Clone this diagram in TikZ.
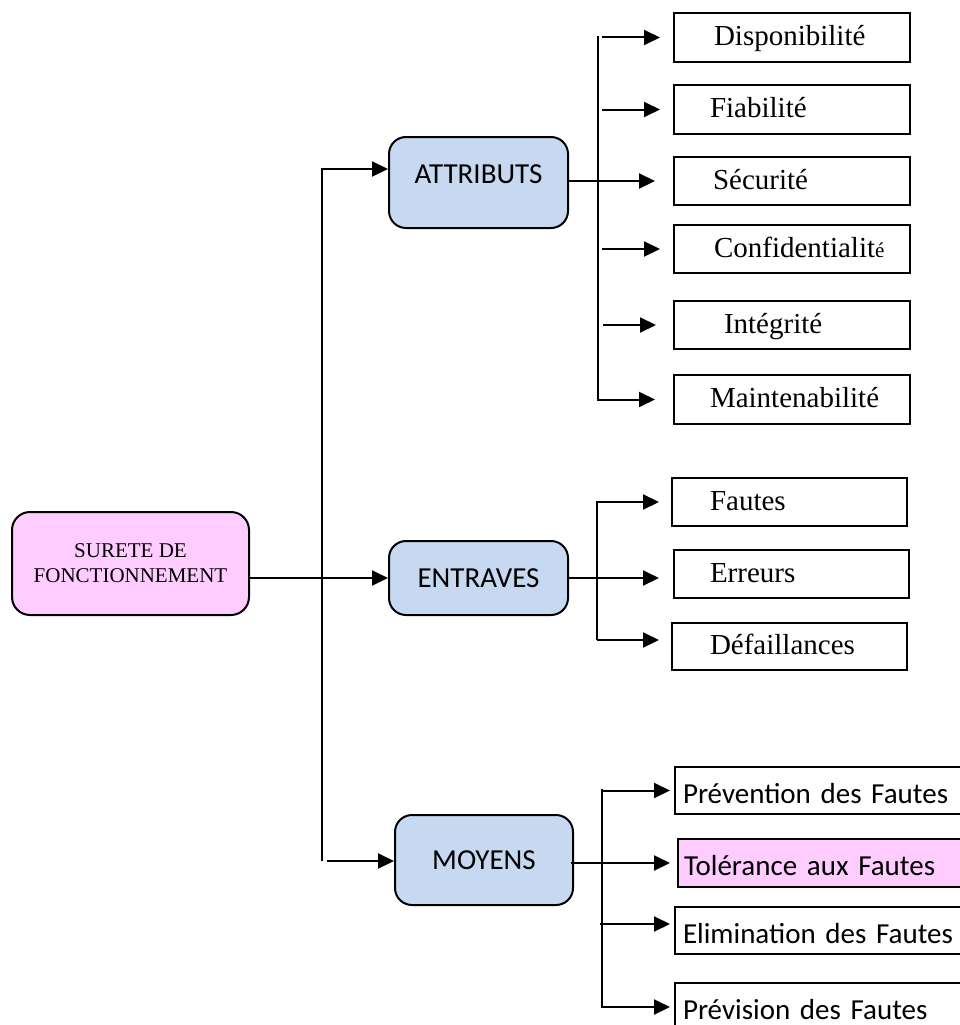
\documentclass[tikz,border=0pt]{standalone}
\usepackage{fontspec}
\setmainfont{Liberation Serif}
\newfontfamily\calfont{Carlito}
\usetikzlibrary{arrows.meta}
\definecolor{bluebox}{HTML}{C6D9F1}
\definecolor{pinkbox}{HTML}{FFCCFF}
\begin{document}
\begin{tikzpicture}[x=1pt,y=-1pt,
  line/.style={line width=2pt},
  arr/.style={line width=2pt,-{Triangle[length=16pt,width=15pt]}},
  darr/.style={line width=2pt,{Triangle[length=16pt,width=15pt]}-{Triangle[length=16pt,width=15pt]}},
  rbox/.style={draw,line width=2pt,rounded corners=17pt,fill=bluebox,inner sep=0pt,
    font=\calfont\fontsize{29}{35}\selectfont},
  leaf/.style={draw,line width=2pt,inner sep=0pt,anchor=north west,align=left,
    font=\fontsize{29}{35}\selectfont,text height=21pt,text depth=5pt},
  cleaf/.style={draw,line width=2pt,inner sep=0pt,anchor=north west,align=left,
    font=\calfont\fontsize{29}{35}\selectfont,text height=25pt,text depth=0pt},
]
\useasboundingbox (0,0) rectangle (960,1025);

% main nodes
\node[draw,line width=2pt,rounded corners=18pt,fill=pinkbox,minimum width=237pt,minimum height=103pt,
  inner sep=0pt,align=center,font=\fontsize{21}{25}\selectfont] (root) at (130.5,563.5) {SURETE DE\\FONCTIONNEMENT};
\node[rbox,minimum width=179pt,minimum height=91pt,text height=19pt,text depth=18pt] (attr) at (478.5,182.5) {ATTRIBUTS};
\node[rbox,minimum width=179pt,minimum height=74pt] (entr) at (478.5,578) {ENTRAVES};
\node[rbox,minimum width=178pt,minimum height=90pt] (moy) at (484,860) {MOYENS};

% attributs leaves
\node[leaf,text width=236pt,minimum height=49pt] (dispo) at (673,12) {\hspace*{40pt}Disponibilité};
\node[leaf,text width=236pt,minimum height=49pt] (fiab) at (673,84) {\hspace*{36pt}Fiabilité};
\node[leaf,text width=236pt,minimum height=48pt] (secu) at (673,156) {\hspace*{39pt}Sécurité};
\node[leaf,text width=236pt,minimum height=48pt] (conf) at (673,224) {\hspace*{40pt}Confidentialit{\fontsize{21}{25}\selectfont é}};
\node[leaf,text width=236pt,minimum height=48pt] (integ) at (673,300) {\hspace*{50pt}Intégrité};
\node[leaf,text width=236pt,minimum height=49pt] (maint) at (673,374) {\hspace*{36pt}Maintenabilité};

% entraves leaves
\node[leaf,text width=235pt,minimum height=48pt] (faut) at (671,477) {\hspace*{38pt}Fautes};
\node[leaf,text width=235pt,minimum height=48pt] (err) at (673,549) {\hspace*{36pt}Erreurs};
\node[leaf,text width=235pt,minimum height=47pt] (def) at (671,622) {\hspace*{38pt}Défaillances};

% moyens leaves
\node[cleaf,text width=320pt,minimum height=47pt] (prev) at (674,766) {\hspace*{8pt}Prévention des Fautes};
\node[cleaf,fill=pinkbox,text width=320pt,minimum height=48pt] (tol) at (677,838) {\hspace*{6pt}Tolérance aux Fautes};
\node[cleaf,text width=320pt,minimum height=47pt] (elim) at (674,906) {\hspace*{8pt}Elimination des Fautes};
\node[cleaf,text width=320pt,minimum height=48pt] (previs) at (674,982) {\hspace*{8pt}Prévision des Fautes};

% trunk
\coordinate (tb) at (322,861);
\draw[arr] (tb) |- ([yshift=13.5pt]attr.west);
\draw[arr] (root.east |- entr.west) -- (entr.west);
\draw[arr] ([xshift=5pt]tb) -- (moy.west |- tb);

% attributs fan-out
\coordinate (aT) at (598,36);
\draw[arr,shorten >=18pt] (aT) |- (maint.west);
\draw[line] (aT) -- (598,397);
\draw[arr,shorten >=13pt] ([xshift=4pt]aT |- dispo.west) -- (dispo.west);
\draw[arr,shorten >=13pt] ([xshift=4pt]aT |- fiab.west) -- (fiab.west);
\draw[arr,shorten >=18pt] (attr.east |- secu.west) -- (secu.west);
\draw[arr,shorten >=13pt] ([xshift=4pt]aT |- conf.west) -- (conf.west);
\draw[arr,shorten >=17pt] ([xshift=5pt]aT |- integ.west) -- (integ.west);

% entraves fan-out
\coordinate (eB) at (597,640);
\draw[arr,shorten >=12pt] (eB) |- (faut.west);
\draw[arr,shorten >=12pt] (eB) -- (eB -| def.west);
\draw[arr,shorten >=14pt] (entr.east) -- (entr.east -| err.west);

% moyens fan-out
\coordinate (mT) at (602,789);
\draw[darr,shorten <=4pt,shorten >=4pt] (prev.west) -| (mT) |- (previs.west);
\draw[arr,shorten >=7pt] ([xshift=-3pt]moy.east |- tol.west) -- (tol.west);
\coordinate (mE) at (600,924);
\draw[arr,shorten >=4pt] (mE) -- (mE -| elim.west);
\end{tikzpicture}
\end{document}
